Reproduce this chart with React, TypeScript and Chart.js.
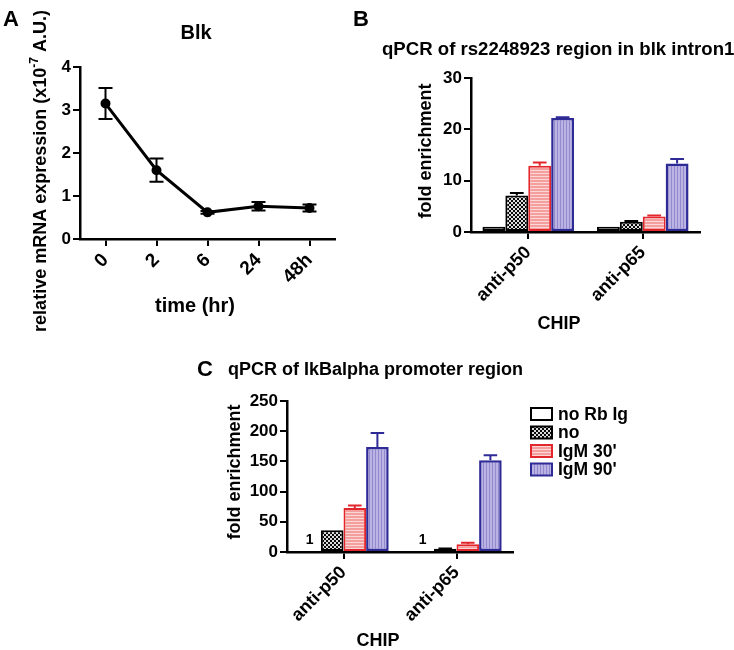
import React, { useEffect, useRef } from 'react';
import { Chart, registerables } from 'chart.js';

Chart.register(...registerables);

const FAMILY = '"Liberation Sans", Arial, Helvetica, sans-serif';

// ---------- Panel A data ----------
const timeLabels = ['0', '2', '6', '24', '48h'];
const blkMean = [3.15, 1.6, 0.62, 0.76, 0.72];
const blkErr = [0.36, 0.27, 0.03, 0.1, 0.08];
const aTicks = [0, 1, 2, 3, 4];

// ---------- Shared bar categories / series ----------
const chipLabels = ['anti-p50', 'anti-p65'];
const seriesNames = ['no Rb Ig', 'no', "IgM 30'", "IgM 90'"];

// ---------- Panel B data ----------
const bNoRbIg = [1, 1];
const bNo = [7.1, 2.0];
const bIgM30 = [12.9, 3.0];
const bIgM90 = [22.2, 13.35];
const bNoRbIgErr = [0, 0];
const bNoErr = [0.5, 0.15];
const bIgM30Err = [0.65, 0.2];
const bIgM90Err = [0.15, 0.85];
const bTicks = [0, 10, 20, 30];

// ---------- Panel C data ----------
const cNoRbIg = [1, 1];
const cNo = [36, 5.5];
const cIgM30 = [73, 13];
const cIgM90 = [174, 152];
const cNoRbIgErr = [0, 0];
const cNoErr = [0, 0.5];
const cIgM30Err = [4, 2.5];
const cIgM90Err = [23, 8];
const cTicks = [0, 50, 100, 150, 200, 250];

const font = (size: number) => `bold ${size}px ${FAMILY}`;

function makePattern(kind: string): CanvasPattern | string {
  const c = document.createElement('canvas');
  const ctx = c.getContext('2d');
  if (!ctx) return '#999';
  if (kind === 'check') {
    c.width = 4; c.height = 4;
    ctx.fillStyle = '#0a0a0a'; ctx.fillRect(0, 0, 4, 4);
    ctx.fillStyle = '#dcdcdc'; ctx.fillRect(0, 0, 2, 2); ctx.fillRect(2, 2, 2, 2);
  } else if (kind === 'red') {
    c.width = 4; c.height = 3;
    ctx.fillStyle = '#f49e9e'; ctx.fillRect(0, 0, 4, 3);
    ctx.fillStyle = '#fbd6d6'; ctx.fillRect(0, 2, 4, 1);
  } else if (kind === 'blue') {
    c.width = 3; c.height = 4;
    ctx.fillStyle = '#bab3e4'; ctx.fillRect(0, 0, 3, 4);
    ctx.fillStyle = '#928acd'; ctx.fillRect(2, 0, 1, 4);
  } else {
    c.width = 2; c.height = 2;
    ctx.fillStyle = '#fff'; ctx.fillRect(0, 0, 2, 2);
  }
  return ctx.createPattern(c, 'repeat') || '#999';
}

const errorBarPlugin = {
  id: 'errorBars',
  afterDatasetsDraw(chart: any) {
    const ctx = chart.ctx;
    const yScale = chart.scales.y;
    chart.data.datasets.forEach((ds: any, i: number) => {
      const errs = ds.errors;
      if (!errs) return;
      const meta = chart.getDatasetMeta(i);
      meta.data.forEach((el: any, j: number) => {
        const e = errs[j];
        if (!e) return;
        const v = ds.data[j];
        const x = el.x;
        const top = yScale.getPixelForValue(v + e);
        const bottom = ds.errorBoth ? yScale.getPixelForValue(v - e) : el.y;
        const half = ds.capHalf != null ? ds.capHalf : (el.width || 20) * 0.3;
        ctx.save();
        ctx.strokeStyle = ds.errorColor || ds.borderColor;
        ctx.lineWidth = 2;
        ctx.beginPath();
        ctx.moveTo(x, top); ctx.lineTo(x, bottom);
        ctx.moveTo(x - half, top); ctx.lineTo(x + half, top);
        if (ds.errorBoth) { ctx.moveTo(x - half, bottom); ctx.lineTo(x + half, bottom); }
        ctx.stroke();
        ctx.restore();
      });
    });
  },
};

function overlay(id: string, draw: (chart: any, ctx: CanvasRenderingContext2D) => void) {
  return {
    id,
    afterDraw(chart: any) {
      const ctx = chart.ctx as CanvasRenderingContext2D;
      ctx.save();
      ctx.fillStyle = '#000';
      draw(chart, ctx);
      ctx.restore();
    },
  };
}

function text(ctx: CanvasRenderingContext2D, s: string, x: number, y: number, size: number, align: CanvasTextAlign = 'center', rot = 0) {
  ctx.save();
  ctx.font = font(size);
  ctx.textAlign = align;
  ctx.textBaseline = 'middle';
  ctx.translate(x, y);
  if (rot) ctx.rotate(rot);
  ctx.fillText(s, 0, 0);
  ctx.restore();
}

function axisCommon(tickSize: number, fitKey: 'width' | 'height', fitVal: number) {
  return {
    grid: { display: true, drawOnChartArea: false, drawTicks: true, tickLength: 7, color: '#000', lineWidth: 2, offset: false },
    border: { display: true, color: '#000', width: 2.5 },
    ticks: { color: '#000', font: { family: FAMILY, size: tickSize, weight: 'bold' as const }, padding: 2 },
    afterFit: (s: any) => { s[fitKey] = fitVal; },
  };
}

function yAxis(ticks: number[], width: number) {
  const base = axisCommon(17, 'width', width);
  return {
    ...base,
    min: ticks[0],
    max: ticks[ticks.length - 1],
    ticks: { ...base.ticks, stepSize: ticks[1] - ticks[0] },
  };
}

function xAxis(height: number, size = 18) {
  const base = axisCommon(size, 'height', height);
  return {
    ...base,
    type: 'category' as const,
    offset: true,
    ticks: { ...base.ticks, minRotation: 45, maxRotation: 45, autoSkip: false, padding: 3 },
  };
}

function useChart(make: (canvas: HTMLCanvasElement) => Chart) {
  const ref = useRef<HTMLCanvasElement>(null);
  useEffect(() => {
    if (!ref.current) return;
    const ch = make(ref.current);
    return () => ch.destroy();
  }, []);
  return ref;
}

function PanelA() {
  const ref = useChart((canvas) => {
    const decor = overlay('decorA', (chart, ctx) => {
      text(ctx, 'A', 11, 20, 22);
      text(ctx, 'Blk', 196, 33, 20);
      text(ctx, 'time (hr)', 195, 306, 20);
      // rotated y title with superscript
      const parts = [
        { t: 'relative mRNA expression (x10', f: font(18), dy: 0 },
        { t: '-7', f: font(12), dy: -6 },
        { t: ' A.U.)', f: font(18), dy: 0 },
      ];
      ctx.save();
      ctx.translate(41, 171);
      ctx.rotate(-Math.PI / 2);
      ctx.textAlign = 'left';
      ctx.textBaseline = 'middle';
      let total = 0;
      parts.forEach((p) => { ctx.font = p.f; total += ctx.measureText(p.t).width; });
      let x = -total / 2;
      parts.forEach((p) => { ctx.font = p.f; ctx.fillText(p.t, x, p.dy); x += ctx.measureText(p.t).width; });
      ctx.restore();
    });
    return new Chart(canvas, {
      type: 'line',
      data: {
        labels: timeLabels,
        datasets: [{
          data: blkMean,
          errors: blkErr,
          errorBoth: true,
          capHalf: 7,
          borderColor: '#000',
          backgroundColor: '#000',
          borderWidth: 3,
          pointRadius: 3.5,
          pointBackgroundColor: '#000',
          pointBorderColor: '#000',
          tension: 0,
        } as any],
      },
      options: {
        animation: false,
        responsive: false,
        layout: { padding: { left: 0, top: 67, right: 35, bottom: 0 } },
        plugins: { legend: { display: false }, tooltip: { enabled: false } },
        scales: {
          x: xAxis(106, 19),
          y: yAxis(aTicks, 80),
        } as any,
      },
      plugins: [errorBarPlugin, decor],
    });
  });
  return <canvas ref={ref} width={370} height={345} style={{ position: 'absolute', left: 0, top: 0 }} />;
}

function barDatasets(vals: number[][], errs: number[][]) {
  const fills = [makePattern('white'), makePattern('check'), makePattern('red'), makePattern('blue')];
  const borders = ['#000', '#000', '#e3262b', '#2f2b96'];
  return seriesNames.map((name, i) => ({
    label: name,
    data: vals[i],
    errors: errs[i],
    backgroundColor: fills[i],
    borderColor: borders[i],
    borderWidth: i === 3 ? 2.5 : 2,
    borderSkipped: false,
    categoryPercentage: 0.8,
    barPercentage: 1.0,
  }));
}

function PanelB() {
  const ref = useChart((canvas) => {
    const decor = overlay('decorB', (chart, ctx) => {
      text(ctx, 'B', 16, 20, 22);
      text(ctx, 'qPCR of rs2248923 region in blk intron1', 37, 50, 18.6, 'left');
      text(ctx, 'fold enrichment', 81, 151, 18, 'center', -Math.PI / 2);
      text(ctx, 'CHIP', 214, 324, 18);
    });
    return new Chart(canvas, {
      type: 'bar',
      data: {
        labels: chipLabels,
        datasets: barDatasets([bNoRbIg, bNo, bIgM30, bIgM90], [bNoRbIgErr, bNoErr, bIgM30Err, bIgM90Err]) as any,
      },
      options: {
        animation: false,
        responsive: false,
        layout: { padding: { left: 0, top: 78, right: 34, bottom: 0 } },
        plugins: { legend: { display: false }, tooltip: { enabled: false } },
        scales: { x: xAxis(113), y: yAxis(bTicks, 126) } as any,
      },
      plugins: [errorBarPlugin, decor],
    });
  });
  return <canvas ref={ref} width={389} height={345} style={{ position: 'absolute', left: 345, top: 0 }} />;
}

function PanelC() {
  const ref = useChart((canvas) => {
    const decor = overlay('decorC', (chart, ctx) => {
      text(ctx, 'C', 15, 40, 22);
      text(ctx, 'qPCR of IkBalpha promoter region', 38, 40, 18, 'left');
      text(ctx, 'fold enrichment', 45, 142, 18, 'center', -Math.PI / 2);
      text(ctx, 'CHIP', 188, 311, 18);
      // value labels above the first series
      const meta = chart.getDatasetMeta(0);
      const ds = chart.data.datasets[0];
      meta.data.forEach((el: any, j: number) => {
        text(ctx, String(ds.data[j]), el.x, el.y - 11, 14);
      });
      // legend
      const rows = [84, 102.5, 121, 139.5];
      chart.data.datasets.forEach((d: any, i: number) => {
        const y = rows[i];
        ctx.save();
        ctx.fillStyle = d.backgroundColor;
        ctx.fillRect(341, y - 6, 21, 12);
        ctx.strokeStyle = d.borderColor;
        ctx.lineWidth = 2;
        ctx.strokeRect(341, y - 6, 21, 12);
        ctx.restore();
        ctx.fillStyle = '#000';
        text(ctx, d.label, 368, y + 1, 17.5, 'left');
      });
    });
    return new Chart(canvas, {
      type: 'bar',
      data: {
        labels: chipLabels,
        datasets: barDatasets([cNoRbIg, cNo, cIgM30, cIgM90], [cNoRbIgErr, cNoErr, cIgM30Err, cIgM90Err]) as any,
      },
      options: {
        animation: false,
        responsive: false,
        layout: { padding: { left: 0, top: 71, right: 221, bottom: 0 } },
        plugins: { legend: { display: false }, tooltip: { enabled: false } },
        scales: { x: xAxis(98), y: yAxis(cTicks, 97) } as any,
      },
      plugins: [errorBarPlugin, decor],
    });
  });
  return <canvas ref={ref} width={544} height={320} style={{ position: 'absolute', left: 190, top: 330 }} />;
}

export default function App() {
  return (
    <div style={{ position: 'absolute', left: 0, top: 0, width: 734, height: 650, background: '#fff', overflow: 'hidden' }}>
      <PanelA />
      <PanelB />
      <PanelC />
    </div>
  );
}
